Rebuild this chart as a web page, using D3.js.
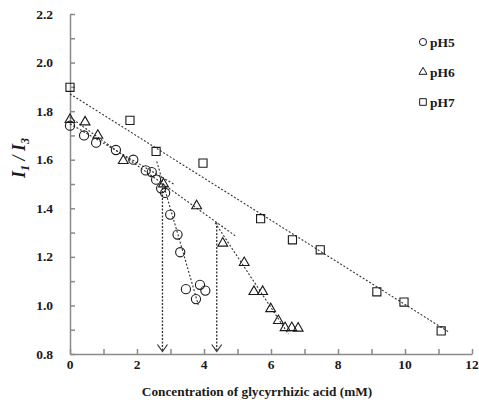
<!DOCTYPE html>
<html>
<head>
<meta charset="utf-8">
<script src="https://cdn.jsdelivr.net/npm/d3@7/dist/d3.min.js"></script>
<style>
  html, body { margin: 0; padding: 0; background: #fff; }
  svg { display: block; }
  text { font-family: "Liberation Serif", "Times New Roman", serif; }
</style>
</head>
<body>
<svg id="chart" width="479" height="402"></svg>
<script>
// Pyrene I1/I3 ratio vs glycyrrhizic acid concentration (mM)
const pH5x = [0, 0.42, 0.78, 1.37, 1.89, 2.26, 2.44, 2.57, 2.72, 2.84, 2.99, 3.21, 3.29, 3.46, 3.76, 3.88, 4.04];
const pH5y = [1.74, 1.70, 1.67, 1.64, 1.60, 1.556, 1.549, 1.518, 1.482, 1.463, 1.374, 1.292, 1.219, 1.067, 1.026, 1.085, 1.061];

const pH6x = [0, 0.45, 0.83, 1.59, 2.79, 3.78, 4.56, 5.20, 5.49, 5.75, 5.99, 6.22, 6.42, 6.62, 6.81];
const pH6y = [1.765, 1.755, 1.70, 1.596, 1.50, 1.41, 1.256, 1.176, 1.057, 1.057, 0.986, 0.937, 0.908, 0.908, 0.906];

const pH7x = [0, 1.79, 2.57, 3.97, 5.69, 6.64, 7.47, 9.16, 9.97, 11.08];
const pH7y = [1.898, 1.762, 1.634, 1.586, 1.357, 1.270, 1.229, 1.056, 1.014, 0.895];

// Linear trend segments: [x1, y1, x2, y2]
const trendLines = [
  [0, 1.871, 11.29, 0.892],   // pH7
  [0, 1.775, 4.93, 1.287],    // pH6, below CMC
  [4.33, 1.341, 6.52, 0.882], // pH6, above CMC
  [0, 1.748, 3.13, 1.497],    // pH5, below CMC
  [2.59, 1.593, 3.83, 1.002]  // pH5, above CMC
];

// Breakpoints (CMC) marked with arrows to the x axis: [x, yTop]
const cmcArrows = [[2.76, 1.50], [4.38, 1.341]];

const xTicks = [0, 2, 4, 6, 8, 10, 12];
const yTicks = [0.8, 1.0, 1.2, 1.4, 1.6, 1.8, 2.0, 2.2];
const legendLabels = ["pH5", "pH6", "pH7"];

const svg = d3.select("#chart");
const x = d3.scaleLinear().domain([0, 12]).range([70, 472]);
const y = d3.scaleLinear().domain([0.8, 2.2]).range([354, 14]);

const axisColor = "#8a8a8a";
const ink = "#1a1a1a";

// Axes (ticks point into the plot)
const gx = svg.append("g").attr("transform", `translate(0,${y(0.8)})`)
  .call(d3.axisBottom(x).tickValues(d3.range(0, 13, 1)).tickSizeInner(-5).tickSizeOuter(0).tickFormat(""));
const gy = svg.append("g").attr("transform", `translate(${x(0)},0)`)
  .call(d3.axisLeft(y).tickValues(d3.range(0.8, 2.21, 0.1)).tickSizeInner(-5).tickSizeOuter(0).tickFormat(""));
[gx, gy].forEach(g => {
  g.selectAll("path, line").attr("stroke", axisColor).attr("stroke-width", 1.5);
});

// Tick labels
svg.append("g").selectAll("text").data(xTicks).join("text")
  .attr("x", d => x(d)).attr("y", 369)
  .attr("text-anchor", "middle").attr("font-size", 13.5).attr("font-weight", "bold")
  .attr("fill", ink).text(d => d);
svg.append("g").selectAll("text").data(yTicks).join("text")
  .attr("x", 53).attr("y", d => y(d) + 4.5)
  .attr("text-anchor", "end").attr("font-size", 13.5).attr("font-weight", "bold")
  .attr("fill", ink).text(d => d.toFixed(1));

// Axis titles
svg.append("text")
  .attr("x", 257).attr("y", 396)
  .attr("text-anchor", "middle").attr("font-size", 13.3).attr("font-weight", "bold")
  .attr("fill", ink).text("Concentration of glycyrrhizic acid (mM)");

const yt = svg.append("text")
  .attr("transform", "translate(25,158) rotate(-90)")
  .attr("text-anchor", "middle").attr("font-size", 18).attr("font-weight", "bold")
  .attr("font-style", "italic").attr("fill", ink);
yt.append("tspan").text("I");
yt.append("tspan").attr("font-size", 12).attr("dy", 4).text("1");
yt.append("tspan").attr("dy", -4).text(" / ");
yt.append("tspan").text("I");
yt.append("tspan").attr("font-size", 12).attr("dy", 4).text("3");

// Trend lines
svg.append("g").selectAll("line").data(trendLines).join("line")
  .attr("x1", d => x(d[0])).attr("y1", d => y(d[1]))
  .attr("x2", d => x(d[2])).attr("y2", d => y(d[3]))
  .attr("stroke", "#333").attr("stroke-width", 1.1).attr("stroke-dasharray", "2,1.8");

// CMC arrows
const arrows = svg.append("g");
cmcArrows.forEach(([cx, cy]) => {
  const px = x(cx), tip = y(0.8) - 2.5;
  arrows.append("line")
    .attr("x1", px).attr("y1", y(cy)).attr("x2", px).attr("y2", tip)
    .attr("stroke", "#333").attr("stroke-width", 1.3).attr("stroke-dasharray", "2,1.5");
  arrows.append("path")
    .attr("d", `M${px - 5},${tip - 7}L${px},${tip}L${px + 5},${tip - 7}`)
    .attr("fill", "none").attr("stroke", "#333").attr("stroke-width", 1.2);
});

// Markers
const series = [
  { xs: pH5x, ys: pH5y, type: d3.symbolCircle, size: 66 },
  { xs: pH6x, ys: pH6y, type: d3.symbolTriangle, size: 42 },
  { xs: pH7x, ys: pH7y, type: d3.symbolSquare, size: 66 }
];
series.forEach(s => {
  svg.append("g").selectAll("path").data(s.xs.map((v, i) => [v, s.ys[i]])).join("path")
    .attr("transform", d => `translate(${x(d[0])},${y(d[1])})`)
    .attr("d", d3.symbol().type(s.type).size(s.size))
    .attr("fill", "none").attr("stroke", ink).attr("stroke-width", 1.1);
});

// Legend
const legendSyms = [
  { type: d3.symbolCircle, size: 40 },
  { type: d3.symbolTriangle, size: 28 },
  { type: d3.symbolSquare, size: 44 }
];
const lg = svg.append("g");
legendLabels.forEach((lab, i) => {
  const ly = 42 + i * 30;
  lg.append("path")
    .attr("transform", `translate(423,${ly})`)
    .attr("d", d3.symbol().type(legendSyms[i].type).size(legendSyms[i].size))
    .attr("fill", "none").attr("stroke", ink).attr("stroke-width", 1);
  lg.append("text")
    .attr("x", 430).attr("y", ly + 4.5)
    .attr("font-size", 13.5).attr("font-weight", "bold").attr("fill", ink)
    .text(lab);
});
</script>
</body>
</html>
